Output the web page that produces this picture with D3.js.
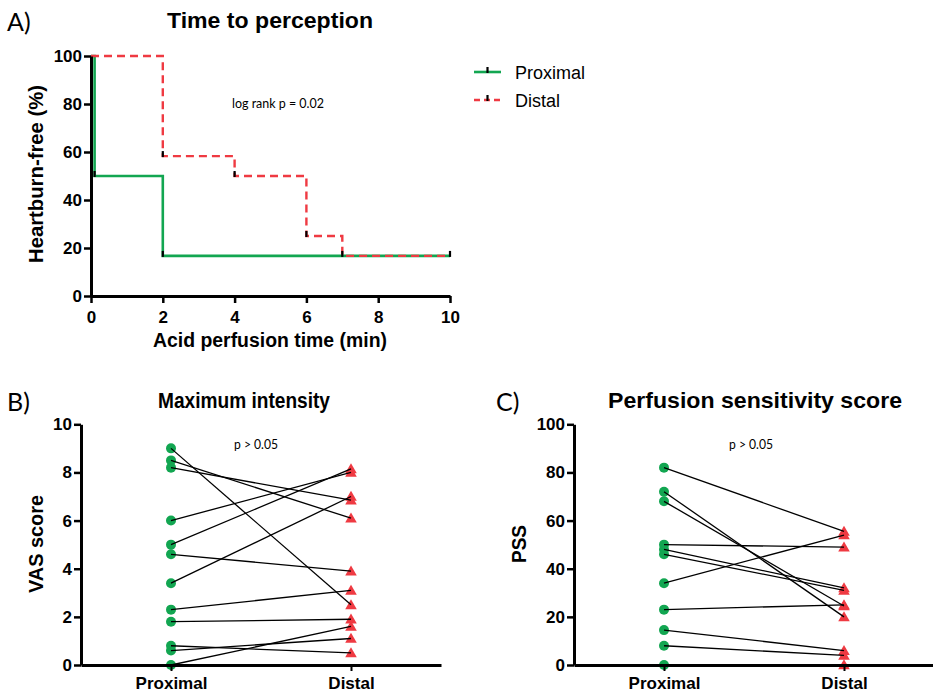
<!DOCTYPE html>
<html><head><meta charset="utf-8">
<script src="https://cdn.jsdelivr.net/npm/d3@7"></script>
<style>body{margin:0;background:#fff}svg{display:block}</style>
</head><body>
<svg id="c" width="933" height="694"></svg>
<script>
// ---------- DATA ----------
const kmTimeTicks = [0, 2, 4, 6, 8, 10];
const kmPctTicks = [0, 20, 40, 60, 80, 100];
const proximalKM_t = [0, 0.1, 2, 10];
const proximalKM_s = [100, 50, 16.7, 16.7];
const distalKM_t = [0, 2, 4, 6, 7, 10];
const distalKM_s = [100, 58.3, 50, 25, 16.7, 16.7];
const proximalMark_t = [0.1, 2, 7, 10];
const proximalMark_s = [50, 16.7, 16.7, 16.7];
const distalMark_t = [2, 4, 6];
const distalMark_s = [58.3, 50, 25];
const kmSeries = ["Proximal", "Distal"];

const groups = ["Proximal", "Distal"];
const vasTicks = [0, 2, 4, 6, 8, 10];
const vasProximal = [9.0, 8.5, 8.2, 6.0, 5.0, 4.6, 3.4, 2.3, 1.8, 0.8, 0.6, 0];
const vasDistal   = [2.5, 6.1, 6.85, 8.0, 8.15, 3.9, 7.0, 3.1, 1.9, 0.5, 1.1, 1.6];
const pssTicks = [0, 20, 40, 60, 80, 100];
const pssProximal = [82, 72, 68, 50, 48, 46, 34, 23, 14.5, 8, 0];
const pssDistal   = [55.5, 20, 24.5, 49, 32, 31, 54, 25, 6, 4, 0];

// ---------- STYLE ----------
const GREEN = "#12a651", RED = "#ef3a42";
const BOLD = "'Liberation Sans', Arial, sans-serif";
const svg = d3.select("#c");

function styleAxis(g, fs) {
  g.select(".domain").attr("stroke", "#000").attr("stroke-width", 3);
  g.selectAll(".tick line").attr("stroke", "#000").attr("stroke-width", 2.5);
  g.selectAll(".tick text").attr("fill", "#000").style("font-family", BOLD)
    .style("font-weight", "bold").style("font-size", fs + "px");
}
function txt(x, y, s, o) {
  const t = svg.append("text").attr("x", x).attr("y", y).text(s)
    .style("font-family", o.family || BOLD).style("font-size", o.size + "px")
    .style("font-weight", o.weight || "normal").attr("fill", "#000")
    .attr("text-anchor", o.anchor || "start");
  if (o.len) t.attr("textLength", o.len).attr("lengthAdjust", "spacingAndGlyphs");
  if (o.rot) t.attr("transform", `rotate(-90,${x},${y})`);
  return t;
}

// ---------- PANEL A ----------
const xA = d3.scaleLinear().domain([0, 10]).range([91, 450]);
const yA = d3.scaleLinear().domain([0, 100]).range([296, 56]);
const step = d3.line().curve(d3.curveStepAfter).x(d => xA(d[0])).y(d => yA(d[1]));
const proxPts = proximalKM_t.map((t, i) => [t, proximalKM_s[i]]);
const distPts = distalKM_t.map((t, i) => [t, distalKM_s[i]]);

svg.append("path").attr("d", step(proxPts)).attr("fill", "none")
  .attr("stroke", GREEN).attr("stroke-width", 2.6);
svg.append("path").attr("d", step(distPts)).attr("fill", "none")
  .attr("stroke", RED).attr("stroke-width", 2.4).attr("stroke-dasharray", "8,5");

const marks = proximalMark_t.map((t, i) => [t, proximalMark_s[i]])
  .concat(distalMark_t.map((t, i) => [t, distalMark_s[i]]));
svg.selectAll(".cm").data(marks).join("line")
  .attr("x1", d => xA(d[0])).attr("x2", d => xA(d[0]))
  .attr("y1", d => yA(d[1]) + 1).attr("y2", d => yA(d[1]) - 5)
  .attr("stroke", "#000").attr("stroke-width", 2.2);

const gxA = svg.append("g").attr("transform", "translate(0,296)")
  .call(d3.axisBottom(xA).tickValues(kmTimeTicks).tickFormat(d3.format("d")).tickSize(7).tickPadding(8).tickSizeOuter(0));
styleAxis(gxA, 17);
const gyA = svg.append("g").attr("transform", "translate(91,0)")
  .call(d3.axisLeft(yA).tickValues(kmPctTicks).tickSize(7).tickPadding(2).tickSizeOuter(0));
styleAxis(gyA, 17);

txt(7, 31, "A)", {size: 25, family: "Lato, 'Open Sans', sans-serif", weight: 400});
txt(270, 28, "Time to perception", {size: 22, weight: "bold", anchor: "middle", len: 206});
txt(270, 347, "Acid perfusion time (min)", {size: 19.5, weight: "bold", anchor: "middle", len: 234});
txt(43, 174, "Heartburn-free (%)", {size: 19.5, weight: "bold", anchor: "middle", rot: true, len: 178});
txt(278, 108, "log rank p = 0.02", {size: 12.5, family: "Lato, sans-serif", anchor: "middle", len: 92});

// legend
const leg = svg.append("g");
kmSeries.forEach((s, i) => {
  const y = 72 + i * 28;
  leg.append("line").attr("x1", 474).attr("x2", 501).attr("y1", y).attr("y2", y)
    .attr("stroke", i === 0 ? GREEN : RED).attr("stroke-width", 2.6)
    .attr("stroke-dasharray", i === 0 ? null : "6,4");
  leg.append("line").attr("x1", 487.5).attr("x2", 487.5).attr("y1", y + 1).attr("y2", y - 5)
    .attr("stroke", "#000").attr("stroke-width", 2.2);
  txt(515, y + 6.5, s, {size: 18, family: "'Liberation Sans', Arial, sans-serif"});
});

// ---------- PANELS B & C ----------
function pairPanel(cfg) {
  const x = d3.scalePoint().domain(groups).range([cfg.x0, cfg.x0 + 360]).padding(0.5);
  const y = d3.scaleLinear().domain([0, cfg.max]).range([665, 424.3]);
  const g = svg.append("g");
  g.selectAll(".p").data(cfg.prox).join("circle")
    .attr("cx", x("Proximal")).attr("cy", d => y(d)).attr("r", 5).attr("fill", GREEN);
  g.selectAll(".d").data(cfg.dist).join("path")
    .attr("d", d3.symbol().type(d3.symbolTriangle).size(58))
    .attr("transform", d => `translate(${x("Distal")},${y(d) + 1})`).attr("fill", RED);
  g.selectAll(".l").data(cfg.prox).join("line")
    .attr("x1", x("Proximal")).attr("x2", x("Distal"))
    .attr("y1", d => y(d)).attr("y2", (d, i) => y(cfg.dist[i]))
    .attr("stroke", "#000").attr("stroke-width", 1.3);
  const gx = svg.append("g").attr("transform", "translate(0,665)")
    .call(d3.axisBottom(x).tickSize(6).tickPadding(6).tickSizeOuter(0));
  styleAxis(gx, 17);
  gx.selectAll(".tick line").attr("stroke-width", 2);
  const gy = svg.append("g").attr("transform", `translate(${cfg.x0},0)`)
    .call(d3.axisLeft(y).tickValues(cfg.ticks).tickSize(7).tickPadding(2).tickSizeOuter(0));
  styleAxis(gy, 17);
  txt(cfg.letterX, 411, cfg.letter, {size: 25, family: "Lato, 'Open Sans', sans-serif", weight: 400});
  txt(cfg.titleX, 408, cfg.title, {size: 22, weight: "bold", anchor: "middle", len: cfg.titleLen});
  txt(cfg.ylabX, 544, cfg.ylab, {size: 19.5, weight: "bold", anchor: "middle", rot: true, len: cfg.ylabLen});
  txt(cfg.pX, 449, "p > 0.05", {size: 12.5, family: "Lato, sans-serif", anchor: "middle", len: 44});
}
pairPanel({x0: 81, max: 10, ticks: vasTicks, prox: vasProximal, dist: vasDistal,
  letter: "B)", letterX: 7, title: "Maximum intensity", titleX: 244, titleLen: 172,
  ylab: "VAS score", ylabX: 43, ylabLen: 98, pX: 256});
pairPanel({x0: 574, max: 100, ticks: pssTicks, prox: pssProximal, dist: pssDistal,
  letter: "C)", letterX: 496, title: "Perfusion sensitivity score", titleX: 755, titleLen: 294,
  ylab: "PSS", ylabX: 526, ylabLen: 38, pX: 751});
</script>
</body></html>
